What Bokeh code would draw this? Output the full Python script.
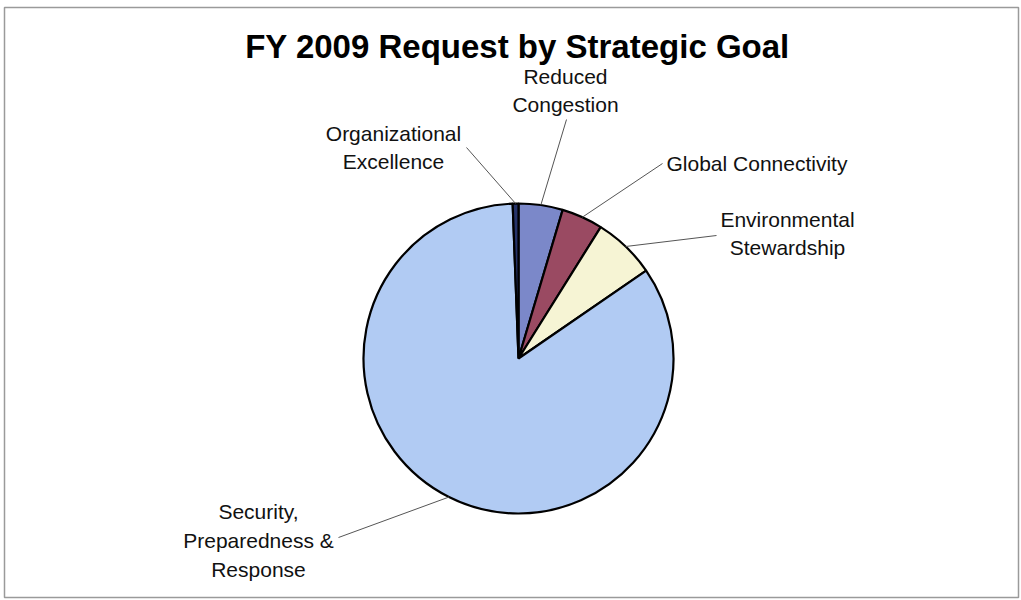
import math
from bokeh.plotting import figure
from bokeh.models import Range1d
from bokeh.core.properties import value
from bokeh.embed import file_html
from bokeh.resources import INLINE

# Data (percent of FY 2009 request), clockwise from 12 o'clock
goals = ["Reduced Congestion", "Global Connectivity", "Environmental Stewardship",
         "Security, Preparedness & Response", "Organizational Excellence"]
shares = [4.6, 4.3, 6.5, 84.0, 0.6]
colors = ["#7B88C9", "#9A4A62", "#F6F4D4", "#B1CBF3", "#26346A"]
label_text = ["Reduced\nCongestion", "Global Connectivity", "Environmental\nStewardship",
              "Security,\nPreparedness &\nResponse", "Organizational\nExcellence"]

W, H = 1021, 600
def Y(py):
    return H - py

cx, cy, r = 518, Y(358), 155

p = figure(width=W, height=H, x_range=Range1d(0, W), y_range=Range1d(0, H),
           output_backend="svg", toolbar_location=None, min_border=0)
p.axis.visible = False
p.grid.visible = False
p.outline_line_color = None
p.background_fill_color = "white"
p.border_fill_color = "white"

# frame
p.quad(left=[4], right=[1018], bottom=[Y(597)], top=[Y(7)],
       fill_color=None, line_color="#9a9a9a", line_width=1.5)

total = sum(shares)
starts, ends, mids = [], [], []
c = 0.0
for s in shares:
    a0 = 90 - c / total * 360
    a1 = 90 - (c + s) / total * 360
    starts.append(math.radians(a0))
    ends.append(math.radians(a1))
    mids.append(math.radians((a0 + a1) / 2))
    c += s

p.wedge(x=[cx] * len(shares), y=[cy] * len(shares), radius=r,
        start_angle=starts, end_angle=ends, direction="clock",
        fill_color=colors, line_color="black", line_width=2.2)

# label layout (pixel positions)
lab_x = [565, 666, 787, 258, 393]
lab_y = [90, 163, 233, 540, 147]
lab_align = ["center", "left", "center", "center", "center"]
lead_from = [(566, 119), (662, 163), (716, 235), (338, 537), (466, 147)]

for i in range(len(shares)):
    ex = cx + r * math.cos(mids[i])
    ey = cy + r * math.sin(mids[i])
    fx, fy = lead_from[i]
    p.line([fx, ex], [Y(fy), ey], line_color="#555555", line_width=1)
    p.text(x=[lab_x[i]], y=[Y(lab_y[i])], text=[label_text[i]],
           text_font=value("Liberation Sans"), text_font_size="21px",
           text_color="#111111", text_align=lab_align[i], text_baseline="middle",
           text_line_height=1.25)

p.text(x=[517], y=[Y(46)], text=["FY 2009 Request by Strategic Goal"],
       text_font=value("Liberation Sans"), text_font_size="33px",
       text_font_style="bold", text_color="black",
       text_align="center", text_baseline="middle")

open("out.html", "w").write(file_html(p, INLINE))
